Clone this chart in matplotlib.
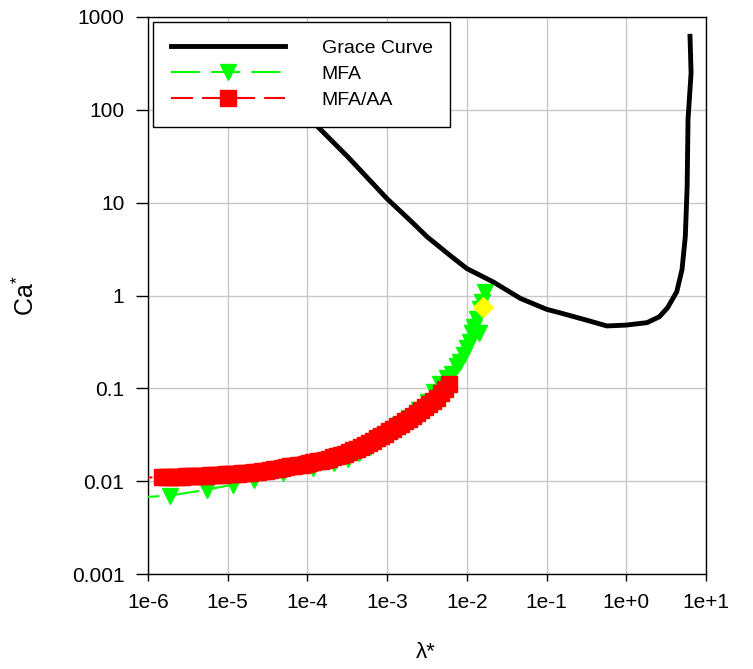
import matplotlib
matplotlib.use("Agg")
from matplotlib import pyplot as plt
from matplotlib.ticker import FixedLocator, FixedFormatter, NullLocator

plt.rcParams['font.family'] = ['Liberation Sans', 'DejaVu Sans']
plt.rcParams['mathtext.default'] = 'regular'

# Grace curve (critical capillary number vs viscosity ratio)
grace_lam = [3.2e-5, 1.0e-4, 3.16e-4, 1.0e-3, 2.0e-3, 3.16e-3, 6.0e-3, 1.0e-2,
             2.14e-2, 4.7e-2, 0.1, 0.148, 0.3, 0.57, 1.0, 1.82, 2.6, 3.3, 4.3,
             5.0, 5.5, 5.8, 5.95, 6.5, 6.3]
grace_ca = [230, 85, 31.6, 11.0, 6.3, 4.3, 2.75, 1.95,
            1.40, 0.93, 0.71, 0.65, 0.55, 0.47, 0.48, 0.51, 0.59, 0.74, 1.1,
            1.9, 4.3, 14.9, 79, 250, 620]

# MFA results
mfa_lam = [6e-7, 1.89e-6, 5.5e-6, 1.17e-5, 2.14e-5, 4.94e-5, 1.17e-4, 2.16e-4,
           3.24e-4, 4.44e-4, 6.1e-4, 8.1e-4, 1.12e-3, 1.45e-3, 1.88e-3, 2.51e-3,
           3.26e-3, 3.87e-3, 4.61e-3, 5.65e-3, 6.52e-3, 7.53e-3, 8.22e-3, 9.23e-3,
           1.005e-2, 1.10e-2, 1.16e-2, 1.42e-2, 1.23e-2, 1.34e-2, 1.47e-2, 1.55e-2,
           1.69e-2]
mfa_ca = [0.0066, 0.0070, 0.0081, 0.0092, 0.0104, 0.0121, 0.0137, 0.0155,
          0.0175, 0.0203, 0.0236, 0.0280, 0.0342, 0.0407, 0.0485, 0.0591,
          0.0721, 0.0924, 0.110, 0.128, 0.144, 0.172, 0.194, 0.231,
          0.269, 0.319, 0.390, 0.399, 0.463, 0.565, 0.724, 0.861,
          1.10]

# MFA/AA results
aa_lam = [6e-7,
          1.50e-6, 1.68e-6, 1.89e-6, 2.12e-6, 2.38e-6, 2.67e-6, 3.00e-6, 3.36e-6,
          3.77e-6, 4.23e-6, 4.75e-6, 5.33e-6, 5.98e-6, 6.71e-6, 7.53e-6, 8.45e-6,
          9.48e-6, 1.06e-5, 1.19e-5, 1.34e-5, 1.50e-5, 1.68e-5, 1.89e-5, 2.12e-5,
          2.38e-5, 2.67e-5, 3.00e-5, 3.36e-5, 3.77e-5, 4.23e-5, 4.75e-5, 5.33e-5,
          5.98e-5, 6.71e-5, 7.53e-5, 8.45e-5, 9.48e-5, 1.06e-4, 1.19e-4, 1.34e-4,
          1.50e-4, 1.68e-4, 1.89e-4, 2.12e-4, 2.38e-4, 2.67e-4, 3.00e-4, 3.36e-4,
          3.77e-4, 4.23e-4, 4.75e-4, 5.33e-4, 5.98e-4, 6.71e-4, 7.53e-4, 8.45e-4,
          9.48e-4, 1.06e-3, 1.19e-3, 1.34e-3, 1.50e-3, 1.68e-3, 1.89e-3, 2.12e-3,
          2.38e-3, 2.67e-3, 3.00e-3, 3.36e-3, 3.77e-3, 4.23e-3, 4.75e-3, 5.33e-3,
          5.98e-3]
aa_ca = [0.0109,
         0.0110, 0.0110, 0.0111, 0.0111, 0.0112, 0.0112, 0.0113, 0.0113,
         0.0114, 0.0114, 0.0115, 0.0115, 0.0116, 0.0116, 0.0117, 0.0117,
         0.0118, 0.0118, 0.0119, 0.0120, 0.0121, 0.0122, 0.0123, 0.0124,
         0.0126, 0.0128, 0.0130, 0.0132, 0.0134, 0.0136, 0.0139, 0.0141,
         0.0144, 0.0146, 0.0149, 0.0151, 0.0154, 0.0157, 0.0160, 0.0163,
         0.0166, 0.0170, 0.0175, 0.0180, 0.0185, 0.0191, 0.0198, 0.0206,
         0.0214, 0.0224, 0.0234, 0.0246, 0.0259, 0.0274, 0.0290, 0.0307,
         0.0326, 0.0345, 0.0366, 0.0389, 0.0414, 0.0442, 0.0473, 0.0507,
         0.0543, 0.0585, 0.0630, 0.0680, 0.0735, 0.0795, 0.0880, 0.0980,
         0.110]

# critical point
crit_lam = [0.0159]
crit_ca = [0.76]

xticks = [1e-6, 1e-5, 1e-4, 1e-3, 1e-2, 1e-1, 1e0, 1e1]
xlabels = ['1e-6', '1e-5', '1e-4', '1e-3', '1e-2', '1e-1', '1e+0', '1e+1']
yticks = [1e-3, 1e-2, 1e-1, 1, 10, 100, 1000]
ylabels = ['0.001', '0.01', '0.1', '1', '10', '100', '1000']

fig = plt.figure(figsize=(7.53, 6.69), dpi=100)
ax = fig.add_axes([148 / 753, 1 - 574 / 669, 558 / 753, 557 / 669])
ax.set_xscale('log')
ax.set_yscale('log')

ax.plot(mfa_lam, mfa_ca, color='#00ff00', lw=1.5, dashes=(14, 5.3),
        marker='v', ms=12, mec='#00ff00', mfc='#00ff00', label='MFA', zorder=3)
ax.plot(aa_lam, aa_ca, color='#ff0000', lw=1.5, dashes=(10.6, 4.3),
        marker='s', ms=11, mec='#ff0000', mfc='#ff0000', label='MFA/AA', zorder=4)
ax.plot(crit_lam, crit_ca, ls='none', marker='D', ms=10, color='#ffff00',
        mec='#ffff00', zorder=5)
ax.plot(grace_lam, grace_ca, color='black', lw=3.5, label='Grace Curve',
        solid_joinstyle='round', zorder=6)

ax.set_xlim(1e-6, 10)
ax.set_ylim(1e-3, 1e3)
ax.xaxis.set_major_locator(FixedLocator(xticks))
ax.xaxis.set_major_formatter(FixedFormatter(xlabels))
ax.yaxis.set_major_locator(FixedLocator(yticks))
ax.yaxis.set_major_formatter(FixedFormatter(ylabels))
ax.xaxis.set_minor_locator(NullLocator())
ax.yaxis.set_minor_locator(NullLocator())
ax.tick_params(axis='x', direction='out', length=5, width=1, labelsize=15, pad=9)
ax.tick_params(axis='y', direction='out', length=9, width=1, labelsize=15, pad=8)
ax.grid(True, color='#c8c8c8', lw=1)
ax.set_axisbelow(True)
for s in ax.spines.values():
    s.set_linewidth(1)

ax.set_xlabel('λ*', fontsize=16)
ax.xaxis.set_label_coords(0.498, -0.122)
ax.set_ylabel('Ca$^{*}$', fontsize=18)
ax.yaxis.set_label_coords(-0.195, 0.5)

h, l = ax.get_legend_handles_labels()
order = [2, 0, 1]
leg = ax.legend([h[i] for i in order], [l[i] for i in order],
                loc='upper left', bbox_to_anchor=(0.009, 0.991), fontsize=14,
                handlelength=5.87, handletextpad=1.9, borderpad=0.9,
                labelspacing=0.43, borderaxespad=0, fancybox=False,
                framealpha=1, edgecolor='black', numpoints=1)
leg.get_frame().set_linewidth(1)
leg.set_zorder(10)

fig.savefig('out.png', dpi=100)
